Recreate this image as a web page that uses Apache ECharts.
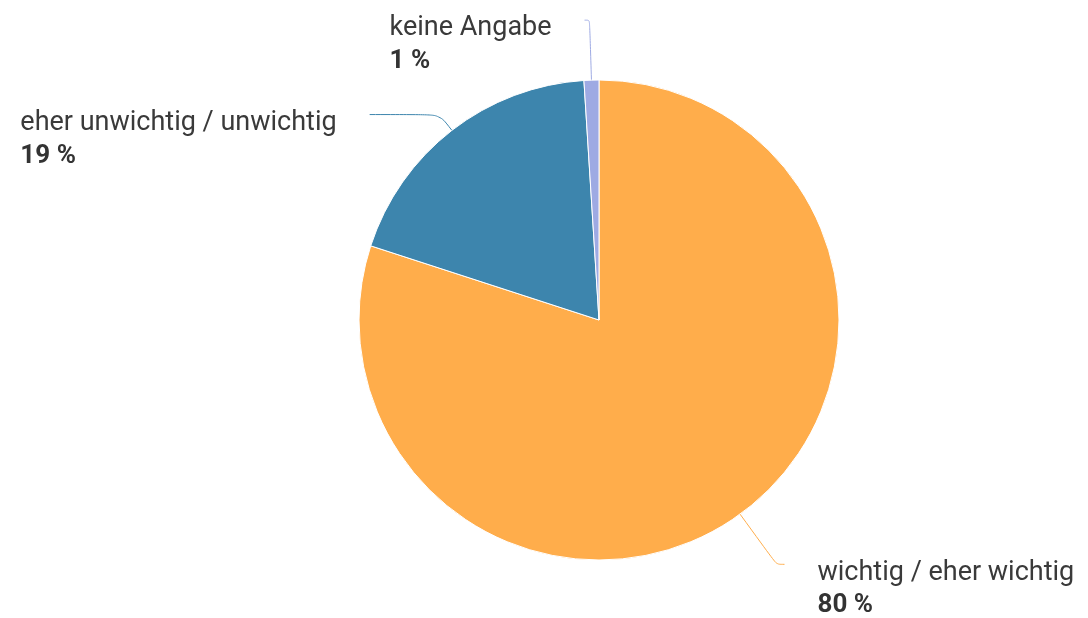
<!DOCTYPE html>
<html>
<head>
<meta charset="utf-8">
<script src="https://cdn.jsdelivr.net/npm/echarts@6/dist/echarts.min.js"></script>
<style>
  html, body { margin: 0; padding: 0; background: #fff; }
  #chart { width: 1088px; height: 618px; }
</style>
</head>
<body>
<div id="chart"></div>
<script>
const categories = ['wichtig / eher wichtig', 'eher unwichtig / unwichtig', 'keine Angabe'];
const values = [80, 19, 1];
const colors = ['#ffad4b', '#3d85ad', '#9eaae3'];
// label line lengths per slice (radial part, then the turn towards the text)
const lineLength = [62, 20, 60];
const lineLength2 = [8, 70, 5];

const chart = echarts.init(document.getElementById('chart'));

const data = categories.map((name, i) => ({
  name: name,
  value: values[i],
  itemStyle: { color: colors[i] },
  labelLine: { length: lineLength[i], length2: lineLength2[i] },
}));

chart.setOption({
  animation: false,
  series: [
    {
      type: 'pie',
      center: [599, 320],
      radius: 240,
      startAngle: 90,
      clockwise: true,
      avoidLabelOverlap: false,
      itemStyle: { borderColor: '#fff', borderWidth: 1 },
      label: {
        position: 'outside',
        color: '#333',
        padding: [50, 0, 0, 0],
        distanceToLabelLine: 33,
        formatter: (p) => '{n|' + p.name + '}\n{v|' + p.value + ' %}',
        rich: {
          n: { fontFamily: 'Roboto', fontSize: 27, color: '#3a3a3a', lineHeight: 33, align: 'left' },
          v: { fontFamily: 'Roboto', fontSize: 26, fontWeight: 'bold', color: '#333', lineHeight: 33, align: 'left' },
        },
      },
      labelLine: { smooth: 0.3, lineStyle: { width: 1 } },
      data: data,
    },
  ],
});
</script>
</body>
</html>
